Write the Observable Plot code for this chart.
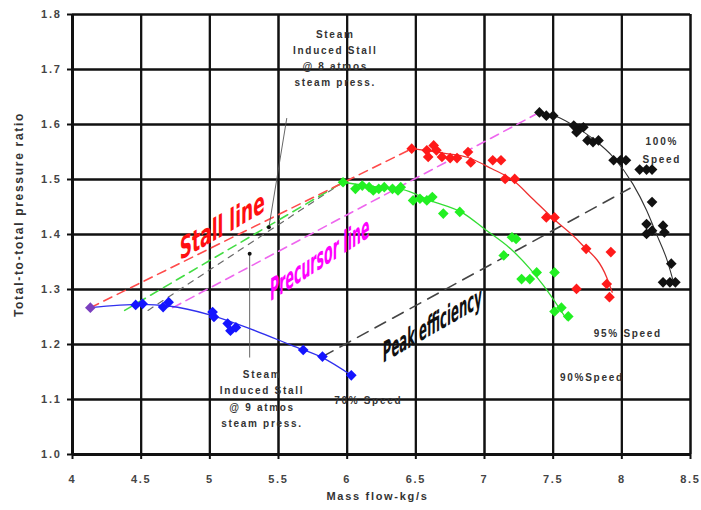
<!DOCTYPE html>
<html><head><meta charset="utf-8">
<script src="https://cdn.jsdelivr.net/npm/d3@7"></script>
<script src="https://cdn.jsdelivr.net/npm/@observablehq/plot@0.6"></script>
<style>
html,body{margin:0;padding:0;background:#fff;}
#chart svg{display:block;}
g[aria-description="spaced"] text{letter-spacing:1.7px;}
</style></head><body><div id="chart"></div>
<script>
// ---- axis ticks ----
const xTicks = [4, 4.5, 5, 5.5, 6, 6.5, 7, 7.5, 8, 8.5];
const xTickLabels = ["4", "4.5", "5", "5.5", "6", "6.5", "7", "7.5", "8", "8.5"];
const yTicks = [1.0, 1.1, 1.2, 1.3, 1.4, 1.5, 1.6, 1.7, 1.8];
const yTickLabels = ["1.0", "1.1", "1.2", "1.3", "1.4", "1.5", "1.6", "1.7", "1.8"];

// ---- measured points [mass flow, pressure ratio] ----
const startPoint = [[4.13, 1.267]];
const speed70 = [[4.46,1.272],[4.51,1.274],[4.66,1.268],[4.70,1.277],[5.02,1.259],[5.03,1.250],[5.13,1.238],[5.15,1.225],[5.19,1.231],[5.68,1.190],[5.82,1.178],[6.03,1.144]];
const speed90 = [[5.97,1.495],[6.06,1.483],[6.11,1.489],[6.16,1.486],[6.19,1.480],[6.23,1.483],[6.27,1.486],[6.33,1.483],[6.37,1.480],[6.39,1.486],[6.48,1.462],[6.53,1.465],[6.58,1.462],[6.62,1.468],[6.70,1.438],[6.82,1.441],[7.14,1.362],[7.20,1.395],[7.23,1.392],[7.27,1.319],[7.33,1.319],[7.38,1.331],[7.51,1.331],[7.51,1.260],[7.56,1.267],[7.61,1.251]];
const speed95 = [[6.47,1.556],[6.58,1.553],[6.63,1.562],[6.65,1.553],[6.59,1.541],[6.69,1.541],[6.75,1.539],[6.80,1.539],[6.88,1.550],[6.90,1.531],[7.06,1.535],[7.12,1.535],[7.15,1.501],[7.22,1.501],[7.45,1.431],[7.51,1.431],[7.74,1.374],[7.92,1.368],[7.67,1.301],[7.89,1.310],[7.91,1.286]];
const speed100 = [[7.40,1.622],[7.45,1.616],[7.50,1.616],[7.65,1.598],[7.69,1.592],[7.72,1.595],[7.67,1.586],[7.75,1.571],[7.79,1.568],[7.83,1.571],[7.94,1.535],[7.99,1.535],[8.03,1.535],[8.13,1.518],[8.18,1.518],[8.22,1.518],[8.22,1.459],[8.18,1.419],[8.22,1.407],[8.18,1.401],[8.30,1.416],[8.31,1.404],[8.36,1.347],[8.30,1.313],[8.35,1.313],[8.39,1.313]];

// ---- trend curves ----
const fit70 = [[4.13,1.267],[4.50,1.273],[4.70,1.270],[5.00,1.254],[5.30,1.228],[5.60,1.198],[5.82,1.176],[6.03,1.144]];
const fit90 = [[5.97,1.495],[6.20,1.487],[6.40,1.482],[6.60,1.462],[6.85,1.438],[7.00,1.410],[7.19,1.374],[7.33,1.338],[7.43,1.307],[7.60,1.245]];
const fit95 = [[6.47,1.556],[6.70,1.548],[6.88,1.540],[7.05,1.520],[7.21,1.498],[7.35,1.465],[7.50,1.429],[7.70,1.384],[7.89,1.322],[7.93,1.295]];
const fit100 = [[7.40,1.622],[7.55,1.612],[7.65,1.598],[7.80,1.572],[7.94,1.540],[8.08,1.492],[8.18,1.444],[8.25,1.402],[8.33,1.353],[8.38,1.310]];

// ---- dashed guide lines ----
const stallLine = [[4.13,1.267],[6.47,1.556]];
const stall90Line = [[4.38,1.262],[5.97,1.495]];
const greyLine = [[4.55,1.262],[5.97,1.495]];
const precursorLine = [[4.73,1.267],[7.40,1.622]];
const peakEffLine = [[5.82,1.178],[8.06,1.484]];
const leader8 = [[5.43,1.413],[5.56,1.611]];
const leader9 = [[5.29,1.365],[5.29,1.177]];

const X = d => d[0], Y = d => d[1];
const narrow = "'Liberation Sans Narrow','Arial Narrow','DejaVu Sans Condensed',sans-serif";
const sans = "'Liberation Sans',Arial,sans-serif";
const xMin = xTicks[0], xMax = xTicks[xTicks.length - 1];
const yMin = yTicks[0], yMax = yTicks[yTicks.length - 1];

const plot = Plot.plot({
  width: 701, height: 510,
  marginLeft: 72, marginRight: 11, marginTop: 14, marginBottom: 56,
  x: {domain: [xMin, xMax]},
  y: {domain: [yMin, yMax]},
  style: {fontFamily: sans, background: "#fff"},
  marks: [
    Plot.axisX({ticks: xTicks, tickSize: 5, tickFormat: () => "", stroke: "#111", strokeWidth: 2, label: null}),
    Plot.axisY({ticks: yTicks, tickSize: 5, tickFormat: () => "", stroke: "#111", strokeWidth: 2, label: null}),
    // grid
    Plot.ruleY(yTicks, {y: d => d, stroke: "#111", strokeWidth: 2}),
    Plot.ruleX(xTicks, {x: d => d, stroke: "#111", strokeWidth: 2}),
    Plot.tickY(yTicks, {y: d => d, stroke: "#111", strokeWidth: 2}),
    Plot.tickX(xTicks, {x: d => d, stroke: "#111", strokeWidth: 2}),
    Plot.ruleX([xMin], {stroke: "#111", strokeWidth: 3}),
    Plot.ruleY([yMin], {stroke: "#111", strokeWidth: 3}),
    Plot.text(xTicks.map((v, i) => ({v, t: xTickLabels[i]})), {x: "v", text: "t", frameAnchor: "bottom", dy: 28, fontSize: 11, fontWeight: "bold", fill: "#444", ariaDescription: "spaced"}),
    Plot.text(yTicks.map((v, i) => ({v, t: yTickLabels[i]})), {y: "v", text: "t", frameAnchor: "left", dx: -11, textAnchor: "end", fontSize: 11, fontWeight: "bold", fill: "#444", ariaDescription: "spaced"}),
    Plot.text(["Mass flow-kg/s"], {frameAnchor: "bottom", dx: -4, dy: 45, fontSize: 11, fontWeight: "bold", fill: "#333", ariaDescription: "spaced"}),
    Plot.text(["Total-to-total pressure ratio"], {frameAnchor: "left", textAnchor: "middle", dx: -53, dy: -20, rotate: -90, fontSize: 12, fontWeight: "bold", fill: "#333", ariaDescription: "spaced"}),

    // dashed guides
    Plot.line(greyLine, {x: X, y: Y, stroke: "#6a6a6a", strokeWidth: 1.2, strokeDasharray: "6,6"}),
    Plot.line(stall90Line, {x: X, y: Y, stroke: "#44dd44", strokeWidth: 1.6, strokeDasharray: "9,6"}),
    Plot.line(stallLine, {x: X, y: Y, stroke: "#ff4a4a", strokeWidth: 1.6, strokeDasharray: "9,6"}),
    Plot.line(precursorLine, {x: X, y: Y, stroke: "#ee66ee", strokeWidth: 1.6, strokeDasharray: "9,6"}),
    Plot.line(peakEffLine, {x: X, y: Y, stroke: "#444", strokeWidth: 1.6, strokeDasharray: "12,8"}),

    // leaders
    Plot.line(leader8, {x: X, y: Y, stroke: "#555", strokeWidth: 0.9}),
    Plot.line(leader9, {x: X, y: Y, stroke: "#555", strokeWidth: 0.9}),
    Plot.dot([leader8[0], leader9[0]], {x: X, y: Y, r: 2, fill: "#111"}),

    // trend curves
    Plot.line(fit70, {x: X, y: Y, stroke: "#3030ee", strokeWidth: 1.3, curve: "monotone-x"}),
    Plot.line(fit90, {x: X, y: Y, stroke: "#33dd33", strokeWidth: 1.3, curve: "monotone-x"}),
    Plot.line(fit95, {x: X, y: Y, stroke: "#ee3030", strokeWidth: 1.3, curve: "monotone-x"}),
    Plot.line(fit100, {x: X, y: Y, stroke: "#333", strokeWidth: 1.1, curve: "monotone-x"}),

    // points
    Plot.dot(speed70, {x: X, y: Y, symbol: "diamond2", r: 4.8, fill: "#1414ff"}),
    Plot.dot(speed90, {x: X, y: Y, symbol: "diamond2", r: 4.8, fill: "#22f022"}),
    Plot.dot(speed95, {x: X, y: Y, symbol: "diamond2", r: 4.8, fill: "#ff1a1a"}),
    Plot.dot(speed100, {x: X, y: Y, symbol: "diamond2", r: 4.8, fill: "#111"}),
    Plot.dot(startPoint, {x: X, y: Y, symbol: "diamond2", r: 4.8, fill: "#7b3fbf"}),

    // annotations
    Plot.text(["Steam\nInduced Stall\n@ 8 atmos\nsteam press."], {x: 5.913, y: 1.7236, fontSize: 10, fontWeight: "bold", fill: "#333", lineHeight: 1.6, ariaDescription: "spaced"}),
    Plot.text(["Steam\nInduced Stall\n@ 9 atmos\nsteam press."], {x: 5.38, y: 1.1045, fontSize: 10, fontWeight: "bold", fill: "#333", lineHeight: 1.65, ariaDescription: "spaced"}),
    Plot.text(["70% Speed"], {x: 6.153, y: 1.098, fontSize: 10, fontWeight: "bold", fill: "#333", ariaDescription: "spaced"}),
    Plot.text(["90%Speed"], {x: 7.782, y: 1.14, fontSize: 10, fontWeight: "bold", fill: "#333", ariaDescription: "spaced"}),
    Plot.text(["95% Speed"], {x: 8.044, y: 1.22, fontSize: 10, fontWeight: "bold", fill: "#333", ariaDescription: "spaced"}),
    Plot.text(["100%\nSpeed"], {x: 8.291, y: 1.556, fontSize: 10, fontWeight: "bold", fill: "#333", lineHeight: 1.8, ariaDescription: "spaced"}),

    Plot.text(["Stall line"], {x: 5.09, y: 1.415, rotate: -30, fontSize: 19, fontWeight: "bold", fontFamily: narrow, fill: "#ff1010", ariaDescription: "skew"}),
    Plot.text(["Precursor line"], {x: 5.80, y: 1.355, rotate: -33, fontSize: 14, fontWeight: "bold", fontFamily: narrow, fill: "#ff00ff", ariaDescription: "skew"}),
    Plot.text(["Peak efficiency"], {x: 6.62, y: 1.235, rotate: -30, fontSize: 13, fontWeight: "bold", fontFamily: narrow, fill: "#111", ariaDescription: "skew"})
  ]
});

// skew (instead of rotate) the WordArt-like labels, keeping vertical strokes upright and tall
const stretch = {"Stall line": 1.6, "Precursor line": 2.2, "Peak efficiency": 2.2};
plot.querySelectorAll('g[aria-description="skew"] text').forEach(t => {
  const tr = t.getAttribute("transform");
  if (!tr) return;
  const s = stretch[t.textContent] || 1.6;
  t.setAttribute("transform", tr.replace(/rotate\(([-\d.]+)\)/, (m, a) => `skewY(${a}) scale(1,${s})`));
});
document.getElementById("chart").appendChild(plot);
</script>
</body></html>
